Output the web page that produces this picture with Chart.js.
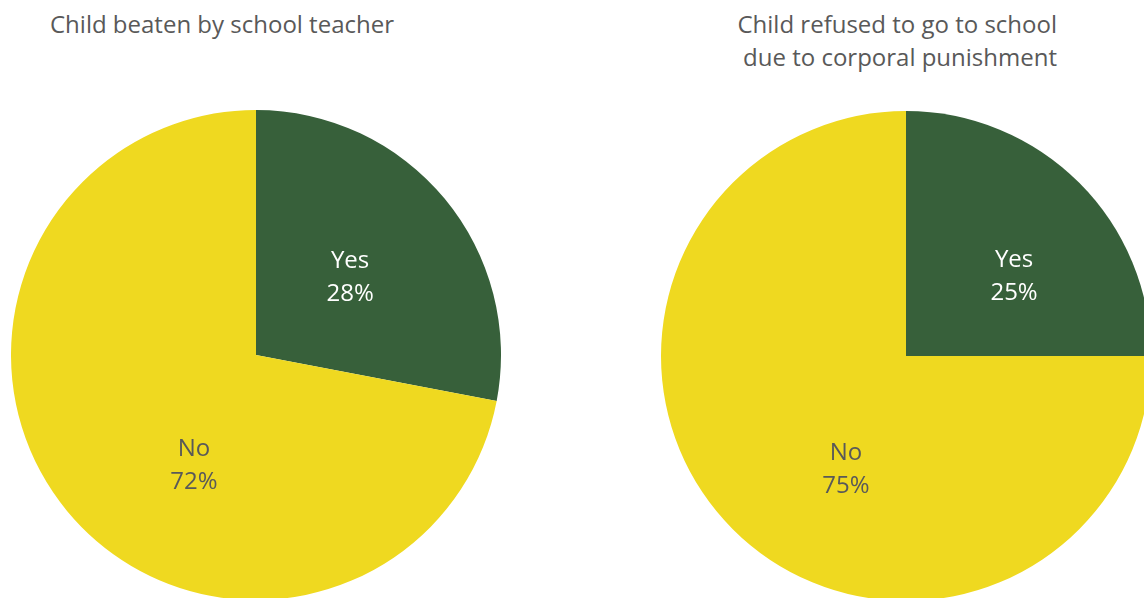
<!DOCTYPE html>
<html lang="en">
<head>
    <meta charset="UTF-8">
    <title>Corporal punishment</title>
    <script src="https://cdn.jsdelivr.net/npm/chart.js"></script>
    <style>
        html, body { margin: 0; padding: 0; background: #fff; overflow: hidden; width: 1144px; height: 598px; }
        .title { position: absolute; font-family: "Open Sans", sans-serif; font-size: 24px; color: #595959; line-height: 33px; white-space: nowrap; }
        canvas { position: absolute; }
    </style>
</head>
<body>
    <div class="title" id="t1" style="left:0; width:444px; top:7px; text-align:center;"></div>
    <div class="title" id="t2" style="left:600px; width:457px; top:7px; text-align:right;"></div>
    <canvas id="pie1" width="490" height="490" style="left:11px; top:110px;"></canvas>
    <canvas id="pie2" width="490" height="490" style="left:661px; top:111px;"></canvas>
    <script>
        const categories = ['Yes', 'No'];
        const beatenValues = [28, 72];
        const refusedValues = [25, 75];
        const beatenTitle = ['Child beaten by school teacher'];
        const refusedTitle = ['Child refused to go to school', 'due to corporal punishment'];

        const sliceColors = ['#37603a', '#efd920'];
        const labelColors = ['#ffffff', '#595959'];

        document.getElementById('t1').innerHTML = beatenTitle.join('<br>');
        document.getElementById('t2').innerHTML = refusedTitle.join('<br>');

        // draws "Yes / 28%" inside each slice, offset as fraction of radius
        const sliceLabels = {
            id: 'sliceLabels',
            afterDatasetsDraw(chart, args, opts) {
                const ctx = chart.ctx;
                const meta = chart.getDatasetMeta(0);
                const data = chart.data.datasets[0].data;
                ctx.save();
                ctx.font = '24px "Open Sans", sans-serif';
                ctx.textAlign = 'center';
                ctx.textBaseline = 'middle';
                meta.data.forEach((arc, i) => {
                    const off = opts.offsets[i];
                    const x = arc.x + off.x * arc.outerRadius;
                    const y = arc.y + off.y * arc.outerRadius + 2;
                    ctx.fillStyle = labelColors[i];
                    ctx.fillText(chart.data.labels[i], x, y - 16.5);
                    ctx.fillText(data[i] + '%', x, y + 16.5);
                });
                ctx.restore();
            }
        };

        function makePie(id, values, offsets) {
            const ctx = document.getElementById(id).getContext('2d');
            return new Chart(ctx, {
                type: 'pie',
                data: {
                    labels: categories,
                    datasets: [{
                        data: values,
                        backgroundColor: sliceColors,
                        borderWidth: 0
                    }]
                },
                options: {
                    responsive: false,
                    animation: false,
                    layout: { padding: 0 },
                    plugins: {
                        legend: { display: false },
                        tooltip: { enabled: false },
                        sliceLabels: { offsets: offsets }
                    }
                },
                plugins: [sliceLabels]
            });
        }

        makePie('pie1', beatenValues, [{ x: 0.384, y: -0.324 }, { x: -0.253, y: 0.443 }]);
        makePie('pie2', refusedValues, [{ x: 0.441, y: -0.331 }, { x: -0.245, y: 0.457 }]);
    </script>
</body>
</html>
